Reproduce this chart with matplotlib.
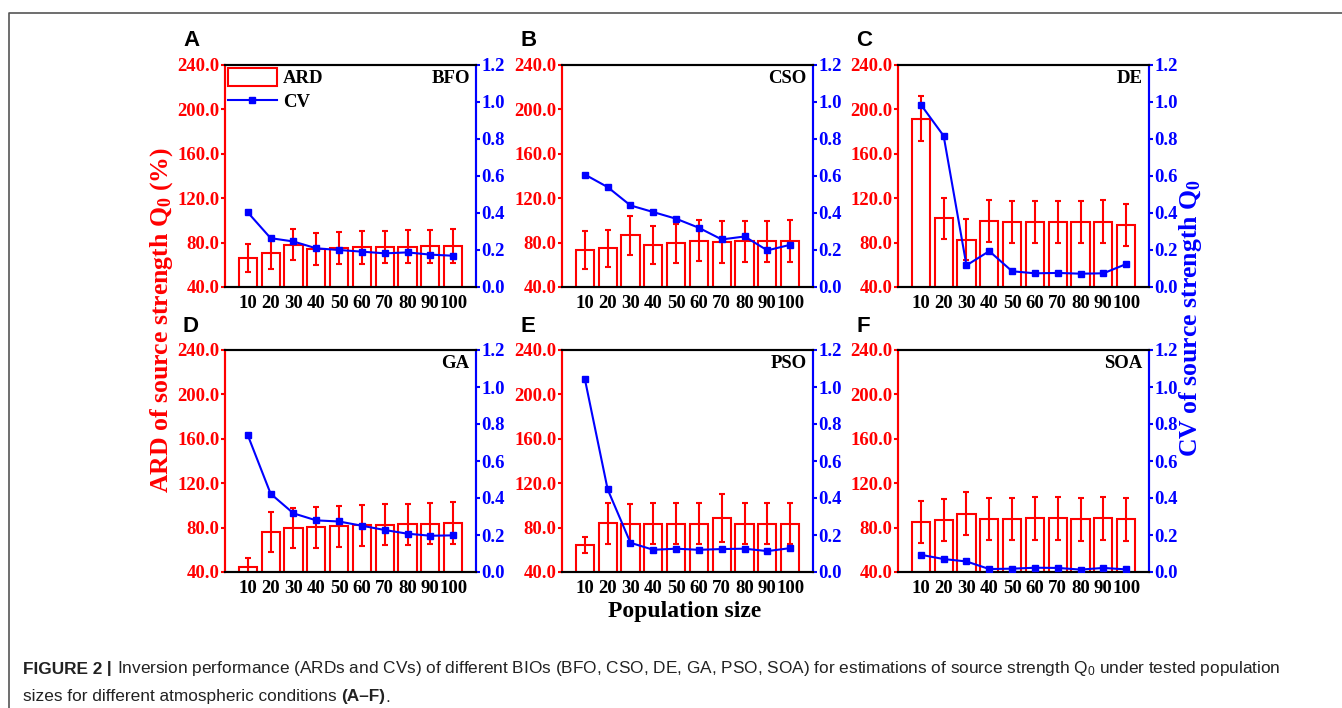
import matplotlib
matplotlib.use("Agg")
import matplotlib.pyplot as plt
from matplotlib.lines import Line2D
from matplotlib.patches import Patch
import numpy as np

plt.rcParams['mathtext.fontset'] = 'custom'
plt.rcParams['mathtext.rm'] = 'Liberation Serif'
plt.rcParams['mathtext.bf'] = 'Liberation Serif:bold'
plt.rcParams['mathtext.sf'] = 'Liberation Sans'

pop_sizes = ['10', '20', '30', '40', '50', '60', '70', '80', '90', '100']
panel_letters = ['A', 'B', 'C', 'D', 'E', 'F']
algorithms = ['BFO', 'CSO', 'DE', 'GA', 'PSO', 'SOA']

# ARD means (%)
ard = {
    'BFO': [66.4, 70.6, 78.0, 74.5, 74.8, 75.7, 76.0, 76.3, 76.6, 76.9],
    'CSO': [73.0, 74.8, 86.8, 78.0, 79.3, 81.7, 80.5, 81.0, 81.0, 81.4],
    'DE':  [191.7, 101.8, 82.7, 99.7, 98.5, 98.5, 98.5, 98.5, 98.8, 95.8],
    'GA':  [44.8, 76.0, 79.6, 80.2, 81.4, 82.0, 82.6, 82.9, 83.5, 84.1],
    'PSO': [64.2, 83.9, 83.3, 83.3, 83.3, 83.3, 88.7, 83.3, 83.3, 83.6],
    'SOA': [85.2, 86.7, 92.7, 87.6, 87.6, 88.2, 88.2, 87.3, 88.2, 87.6],
}
# ARD error bar half-lengths (%)
ard_err = {
    'BFO': [12.5, 14.0, 14.0, 14.3, 14.5, 14.7, 14.8, 14.8, 15.0, 15.2],
    'CSO': [17.0, 16.6, 17.6, 17.2, 17.7, 18.7, 18.7, 18.9, 18.9, 19.0],
    'DE':  [20.4, 18.3, 18.8, 18.9, 19.2, 19.2, 19.2, 19.2, 19.3, 18.9],
    'GA':  [7.8, 17.7, 18.0, 18.4, 18.5, 18.5, 18.5, 18.6, 18.6, 18.6],
    'PSO': [7.2, 18.3, 18.0, 18.5, 18.5, 18.5, 21.6, 18.5, 18.5, 18.5],
    'SOA': [19.1, 19.0, 19.4, 19.1, 19.1, 19.5, 19.5, 19.1, 19.5, 19.3],
}
# CV of source strength Q0
cv = {
    'BFO': [0.403, 0.264, 0.246, 0.209, 0.200, 0.191, 0.182, 0.187, 0.175, 0.169],
    'CSO': [0.608, 0.540, 0.441, 0.405, 0.369, 0.320, 0.257, 0.273, 0.198, 0.228],
    'DE':  [0.986, 0.817, 0.117, 0.194, 0.085, 0.074, 0.076, 0.072, 0.074, 0.124],
    'GA':  [0.739, 0.423, 0.317, 0.279, 0.273, 0.250, 0.227, 0.207, 0.196, 0.198],
    'PSO': [1.044, 0.447, 0.158, 0.120, 0.126, 0.120, 0.124, 0.126, 0.113, 0.129],
    'SOA': [0.093, 0.070, 0.057, 0.016, 0.018, 0.023, 0.022, 0.013, 0.022, 0.014],
}

RED = '#ff0000'
BLUE = '#0000ff'
SERIF = 'Liberation Serif'
TICK_FS = 13.5
W, H = 1342, 708

fig = plt.figure(figsize=(W / 100, H / 100), dpi=100)

lefts = [225, 562, 898]
tops = [65, 350]
ax_w, ax_h = 251, 222

x = np.arange(1, len(pop_sizes) + 1)

for i, alg in enumerate(algorithms):
    r, c = divmod(i, 3)
    l, t = lefts[c], tops[r]
    ax = fig.add_axes([l / W, 1 - (t + ax_h) / H, ax_w / W, ax_h / H])
    ax.bar(x, ard[alg], width=0.8, bottom=0, facecolor='none', edgecolor=RED,
           linewidth=1.5, zorder=2)
    ax.errorbar(x, ard[alg], yerr=ard_err[alg], fmt='none', ecolor=RED,
                elinewidth=1.5, capsize=2.5, capthick=1.5, zorder=3)
    ax.set_xlim(0, 11)
    ax.set_ylim(40, 240)
    ax.set_yticks(np.arange(40, 241, 40))
    ax.set_yticklabels([f'{v:.1f}' for v in np.arange(40, 241, 40)])
    ax.set_xticks(x)
    ax.set_xticklabels(pop_sizes)

    ax2 = ax.twinx()
    ax2.plot(x, cv[alg], color=BLUE, lw=1.5, marker='s', markersize=4.5, zorder=4)
    ax2.set_ylim(0, 1.2)
    ax2.set_yticks(np.arange(0, 1.21, 0.2))
    ax2.set_yticklabels([f'{v:.1f}' for v in np.arange(0, 1.21, 0.2)])

    for a in (ax, ax2):
        for s in a.spines.values():
            s.set_linewidth(1.5)
        a.spines['top'].set_color('black')
        a.spines['bottom'].set_color('black')
        a.spines['left'].set_color(RED)
        a.spines['right'].set_color(BLUE)

    ax.tick_params(axis='y', colors=RED, labelcolor=RED, direction='out', length=3,
                   width=1.5, pad=1)
    ax.tick_params(axis='x', length=0, pad=6)
    ax2.tick_params(axis='y', colors=BLUE, labelcolor=BLUE, direction='out', length=3,
                    width=1.5, pad=1)
    for lab in ax.get_yticklabels() + ax.get_xticklabels() + ax2.get_yticklabels():
        lab.set_fontfamily(SERIF)
        lab.set_fontweight('bold')
        lab.set_fontsize(TICK_FS)

    ax.text(0.975, 0.94, alg, transform=ax.transAxes, ha='right', va='center',
            fontfamily=SERIF, fontweight='bold', fontsize=TICK_FS)
    fig.text((l - 42) / W, 1 - (t - 24) / H, panel_letters[i], ha='left', va='center',
             fontfamily='Liberation Sans', fontweight='bold', fontsize=16)

    if i == 0:
        handles = [Patch(facecolor='none', edgecolor=RED, linewidth=1.5),
                   Line2D([], [], color=BLUE, lw=1.5, marker='s', markersize=4.5)]
        ax.legend(handles, ['ARD', 'CV'], loc='upper left', frameon=False,
                  prop={'family': SERIF, 'weight': 'bold', 'size': TICK_FS},
                  handlelength=2.6, handleheight=1.1, handletextpad=0.35,
                  borderaxespad=0.0, borderpad=0.15, labelspacing=0.25)

fig.text(162 / W, 1 - 320 / H, r'ARD of source strength $\mathbf{Q_0}$ (%)', rotation=90,
         ha='center', va='center', color=RED, fontfamily=SERIF, fontweight='bold',
         fontsize=18.5)
fig.text(1191 / W, 1 - 318 / H, r'CV of source strength $\mathbf{Q_0}$', rotation=90,
         ha='center', va='center', color=BLUE, fontfamily=SERIF, fontweight='bold',
         fontsize=18.5)
fig.text(685 / W, 1 - 612 / H, 'Population size', ha='center', va='center',
         fontfamily=SERIF, fontweight='bold', fontsize=17)

# border of the figure box
fig.add_artist(Line2D([9 / W, 9 / W, 1], [0, 1 - 13 / H, 1 - 13 / H],
                      transform=fig.transFigure, color='#555555', lw=1.2))

# caption
cap_font = ['Liberation Sans Narrow', 'Liberation Sans']
cap_size = 12.4
fig.canvas.draw()
renderer = fig.canvas.get_renderer()


def caption_run(parts, x0, y0):
    xx = x0
    for txt, weight in parts:
        t = fig.text(xx, y0, txt, ha='left', va='center', fontfamily=cap_font,
                     fontweight=weight, fontsize=cap_size, color='#222222')
        bb = t.get_window_extent(renderer)
        xx = bb.x1 / W


caption_run([('FIGURE 2', 'bold'), (' | ', 'bold'),
             ('Inversion performance (ARDs and CVs) of different BIOs (BFO, CSO, DE, GA, PSO, SOA) '
              r'for estimations of source strength $\mathsf{Q_0}$ under tested population', 'normal')],
            23 / W, 1 - 669 / H)
caption_run([('sizes for different atmospheric conditions ', 'normal'), ('(A\u2013F)', 'bold'),
             ('.', 'normal')], 23 / W, 1 - 697 / H)

fig.savefig('out.png', dpi=100)
